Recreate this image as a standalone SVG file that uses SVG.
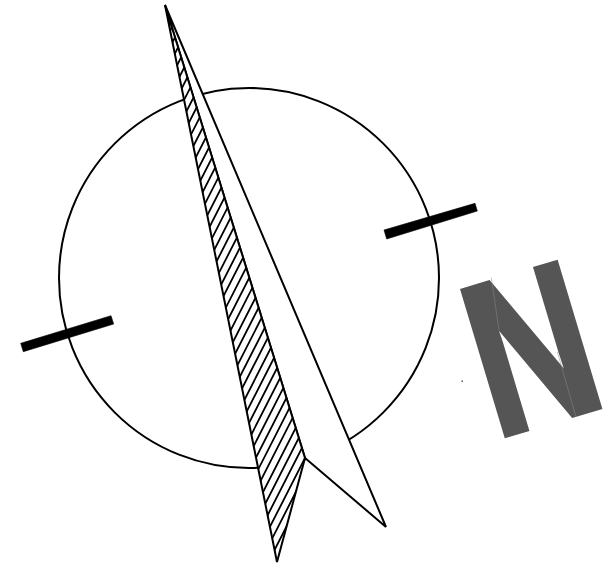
<svg xmlns="http://www.w3.org/2000/svg" width="612" height="564" viewBox="0 0 612 564">
<style>
.o{fill:#fff;stroke:#000;stroke-width:2;stroke-linejoin:miter}
.b{fill:#000;stroke:#000;stroke-width:.6}
.e{fill:none;stroke:#000;stroke-width:2}
.l{fill:none;stroke:#000;stroke-width:1.8}
.s{fill:none;stroke:#8a8a8a;stroke-width:.5}
.n{font-family:"Liberation Sans",Arial,sans-serif;font-weight:700;font-size:218px;fill:#555;stroke:#555;stroke-width:6;stroke-linejoin:miter;stroke-miterlimit:2}
</style>
<defs>
<clipPath id="blade"><polygon points="165,5 305,458 277,562"/></clipPath>
</defs>
<rect width="612" height="564" fill="#fff"/>
<circle class="o" cx="249" cy="278" r="190"/>
<polygon class="b" points="384,230 475,203.3 477.3,211 386.7,239"/>
<polygon class="b" points="20.7,343.3 111,315.7 113.7,324 23.3,351.7"/>
<polygon class="o" points="165,5 386,527 305,458"/>
<polygon points="165,5 305,458 277,562" fill="#fff"/>
<path class="l" clip-path="url(#blade)" d="M-125.2 562l286.4-562M-117 562l286.4-562M-108.8 562l286.4-562M-100.6 562l286.4-562M-92.4 562l286.4-562M-84.2 562l286.4-562M-76 562l286.4-562M-67.8 562l286.4-562M-59.6 562l286.4-562M-51.4 562l286.4-562M-43.2 562l286.4-562M-35 562l286.4-562M-26.8 562l286.4-562M-18.6 562l286.4-562M-10.4 562l286.4-562M-2.2 562l286.4-562M6 562l286.4-562M14.2 562l286.4-562M22.4 562l286.4-562M30.6 562l286.4-562M38.8 562l286.4-562M47 562l286.4-562M55.2 562l286.4-562M63.4 562l286.4-562M71.6 562l286.4-562M79.8 562l286.4-562M88 562l286.4-562M96.2 562l286.4-562M104.4 562l286.4-562M112.6 562l286.4-562M120.8 562l286.4-562M129 562l286.4-562M137.2 562l286.4-562M145.4 562l286.4-562M153.6 562l286.4-562M161.8 562l286.4-562M170 562l286.4-562M178.2 562l286.4-562M186.4 562l286.4-562M194.6 562l286.4-562M202.8 562l286.4-562M211 562l286.4-562M219.2 562l286.4-562M227.4 562l286.4-562M235.6 562l286.4-562M243.8 562l286.4-562M252 562l286.4-562M260.2 562l286.4-562M268.4 562l286.4-562M276.6 562l286.4-562"/>
<polygon class="e" points="165,5 305,458 277,562"/>
<text class="n" transform="translate(495.5 438) rotate(-16.7) scale(.76 1)">N</text>
<path class="s" d="M491.3 277.7L499 330M557.3 351.7L576 417"/>
<rect x="461.5" y="380.5" width="1.5" height="1.5" fill="#555"/>
</svg>
